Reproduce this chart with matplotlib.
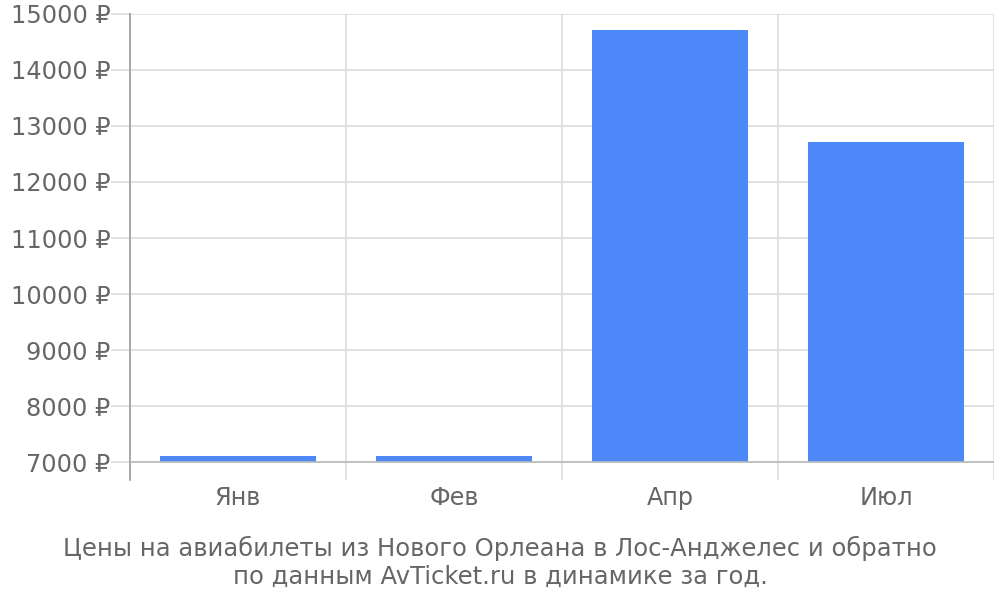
# Цены на авиабилеты: Новый Орлеан - Лос-Анджелес

import matplotlib
matplotlib.use("Agg")
import matplotlib.pyplot as plt

months = ["Янв", "Фев", "Апр", "Июл"]
prices = [7100, 7100, 14710, 12720]
yticks = [7000, 8000, 9000, 10000, 11000, 12000, 13000, 14000, 15000]
title = ("Цены на авиабилеты из Нового Орлеана в Лос-Анджелес и обратно\n"
         "по данным AvTicket.ru в динамике за год.")

base = 7000
text_color = "#666666"
grid_color = "#dddddd"
fs = 17.3

fig = plt.figure(figsize=(10, 6), dpi=100)
ax = fig.add_axes([0.130, 0.20, 0.864, 0.7767])

x = range(len(months))
ax.bar(x, [p - base for p in prices], bottom=base, width=0.72,
       color="#4d89f9", zorder=3)

ax.set_xlim(-0.5, len(months) - 0.5)
ax.set_ylim(6679, 15000)

# horizontal grid
ax.set_yticks(yticks)
ax.set_yticklabels([f"{t} ₽" for t in yticks])
ax.yaxis.grid(True, color=grid_color, linewidth=1.2, zorder=0)
ax.tick_params(axis="y", length=14, color=grid_color, width=1.2, pad=0,
               labelsize=fs, labelcolor=text_color)

# vertical category boundaries
for b in [i + 0.5 for i in range(len(months))]:
    ax.axvline(b, color=grid_color, linewidth=1.2, zorder=0)
ax.axhline(base, color="#bbbbbb", linewidth=1.2, zorder=4)

ax.set_xticks(list(x))
ax.set_xticklabels(months)
ax.tick_params(axis="x", length=0, pad=4, labelsize=fs, labelcolor=text_color)

for s in ["top", "right", "bottom"]:
    ax.spines[s].set_visible(False)
ax.spines["left"].set_color("#999999")
ax.spines["left"].set_linewidth(1.2)

fig.text(0.5, 0.018, title, ha="center", va="bottom", fontsize=17.5,
         color=text_color, linespacing=1.22)

fig.savefig("out.png", dpi=100)
